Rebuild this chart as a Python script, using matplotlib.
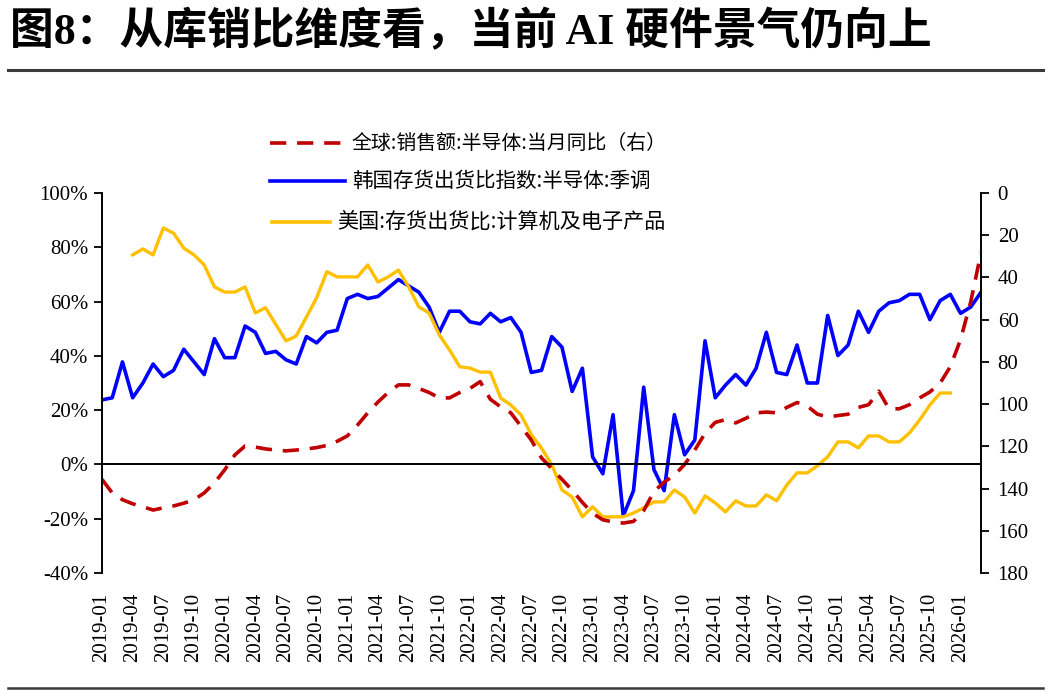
import numpy as np
import pandas as pd
import matplotlib
matplotlib.use('Agg')
import matplotlib.pyplot as plt
from matplotlib.lines import Line2D
from matplotlib.ticker import FuncFormatter

# --- DATA ---
months = pd.period_range('2019-01', '2026-03', freq='M')

# 全球:销售额:半导体:当月同比 (%), left axis
global_semi_yoy = [
    -5.5, -10.5, -13, -14.5, -15.6, -16.8, -16, -15.3, -14.3, -13,
    -10.5, -6.8, -2, 3.5, 6.8, 6.4, 5.7, 5.3, 5, 5.3,
    5.7, 6.2, 7, 8.5, 10.5, 14.5, 19, 23, 26.5, 29.3,
    29.3, 28, 26.5, 24.5, 24.5, 26.5, 28, 30.5, 24, 21.2,
    19, 14, 9, 2.4, -1.5, -5.5, -9.5, -14, -18, -20.4,
    -21.2, -21.6, -21, -17, -10, -6.5, -4, 0, 5.3, 11.5,
    15.5, 16.5, 15.3, 17, 19, 19.3, 19, 21, 22.8, 21.5,
    18.5, 17.5, 18, 18.5, 21, 22, 27, 20.5, 20.5, 22,
    24.5, 26.7, 30, 36, 46, 60, 78,
]

# 韩国存货出货比指数:半导体:季调, right axis (inverted)
korea_inv_ratio = [
    98, 97, 80, 97, 90, 81, 87, 84, 74, 80,
    86, 69, 78, 78, 63, 66, 76, 75, 79, 81,
    68, 71, 66, 65, 50, 48, 50, 49, 45, 41,
    44, 47, 54, 66, 56, 56, 61, 62, 57, 61,
    59, 66, 85, 84, 68, 73, 94, 83, 125, 133,
    105, 153, 141, 92, 131, 141, 105, 124, 117, 70,
    97, 91, 86, 91, 83, 66, 85, 86, 72, 90,
    90, 58, 77, 72, 56, 66, 56, 52, 51, 48,
    48, 60, 51, 48, 57, 54, 47,
]

# 美国:存货出货比:计算机及电子产品, 2019-04 .. 2025-12, left axis scale
us_start = 3
us_inv_ratio = [
    77.2, 79.4, 77.2, 87.1, 85.2, 79.7, 77.2, 73.5, 65.4, 63.5,
    63.5, 65.4, 55.8, 57.7, 51.6, 45.5, 47.3, 54.3, 61.4, 71.0,
    69.1, 69.1, 69.1, 73.5, 67.2, 69.1, 71.6, 65.4, 58.0, 55.8,
    47.7, 42.2, 36.0, 35.5, 34.0, 34.0, 24.5, 21.9, 18.2, 11.0,
    6.0, 0.0, -9.4, -12.0, -19.3, -15.6, -19.3, -19.3, -19.3, -17.9,
    -16.0, -13.8, -13.8, -9.4, -12.0, -17.9, -11.6, -14.2, -17.5, -13.4,
    -15.3, -15.3, -11.2, -13.4, -7.6, -3.1, -3.1, -0.5, 2.8, 8.3,
    8.3, 6.1, 10.5, 10.5, 8.3, 8.3, 11.6, 16.4, 21.9, 26.3,
    26.3,
]

labels = [
    '全球:销售额:半导体:当月同比（右）',
    '韩国存货出货比指数:半导体:季调',
    '美国:存货出货比:计算机及电子产品',
]
title = '图8：从库销比维度看，当前 AI 硬件景气仍向上'

# --- STYLE ---
W, H = 1051, 693
CJK = ['Noto Sans CJK SC', 'DejaVu Sans']
SERIF = ['Liberation Serif', 'Noto Sans CJK SC']
RED, BLUE, GOLD = '#C00000', '#0000FF', '#FFC000'


def fx(x):
    return x / W


def fy(y):
    return 1 - y / H


fig = plt.figure(figsize=(W / 100, H / 100), dpi=100)
ax2 = fig.add_axes([fx(102), fy(573), fx(981) - fx(102), fy(193) - fy(573)])
ax = ax2.twinx()
ax.yaxis.tick_left()
ax2.yaxis.tick_right()
ax.set_zorder(ax2.get_zorder() + 1)
ax.patch.set_visible(False)

x = np.arange(len(months))
x_us = np.arange(us_start, us_start + len(us_inv_ratio))

ax2.plot(x, korea_inv_ratio, color=BLUE, lw=2.6)
ax.plot(x_us, us_inv_ratio, color=GOLD, lw=2.4)
ax.plot(x, global_semi_yoy, color=RED, lw=2.6, dashes=(4.5, 3))

ax.set_xlim(0, len(months) - 1)
ax.set_ylim(-40, 100)
ax2.set_ylim(180, 0)

# left axis
ax.set_yticks(np.arange(-40, 101, 20))
ax.yaxis.set_major_formatter(FuncFormatter(lambda v, p: f'{v:.0f}%'))
ax.tick_params(axis='y', direction='out', length=6, width=1.3, pad=4)
for t in ax.get_yticklabels():
    t.set_fontfamily(SERIF)
    t.set_fontsize(15)

# right axis
ax2.set_yticks(np.arange(0, 181, 20))
ax2.tick_params(axis='y', direction='out', length=6, width=1.3, pad=6)
for t in ax2.get_yticklabels():
    t.set_fontfamily(SERIF)
    t.set_fontsize(15)

# x axis drawn along 0%, labels at bottom
tick_pos = x[::3][:29]
tick_lab = [m.strftime('%Y-%m') for m in months[::3][:29]]
ax.spines['bottom'].set_position(('data', 0))
ax.set_xticks(tick_pos)
ax.tick_params(axis='x', direction='out', length=6, width=1.3, labelbottom=False)
ax2.set_xticks([])
sec = ax.secondary_xaxis(0.0)
sec.set_xticks(tick_pos)
sec.set_xticklabels(tick_lab, rotation=90, fontfamily=SERIF, fontsize=15)
sec.tick_params(length=0, pad=14)
sec.spines['bottom'].set_visible(False)

for a in (ax, ax2):
    a.spines['top'].set_visible(False)
    for s in a.spines.values():
        s.set_linewidth(1.4)
ax.spines['right'].set_visible(False)
ax2.spines['left'].set_visible(False)
ax2.spines['bottom'].set_visible(False)

# legend (hand placed rows as in the reference)
rows = [
    (RED, (4.5, 3), 270, 345, 143, 352, labels[0], 14.3),
    (BLUE, None, 270, 345, 181, 352, labels[1], 14.8),
    (GOLD, None, 272, 330, 222, 337, labels[2], 15.2),
]
for color, dash, x0, x1, yy, xt, lab, fs in rows:
    ln = Line2D([fx(x0), fx(x1)], [fy(yy), fy(yy)], transform=fig.transFigure,
                color=color, lw=2.6)
    if dash:
        ln.set_dashes(dash)
    fig.add_artist(ln)
    fig.text(fx(xt), fy(yy), lab, fontfamily=CJK, fontsize=fs,
             va='center', ha='left')

# title and rules
fig.text(fx(10), fy(32), title, fontfamily=SERIF, fontsize=31.5,
         fontweight='bold', va='center', ha='left')
fig.add_artist(Line2D([fx(8), fx(1043)], [fy(70), fy(70)],
                      transform=fig.transFigure, color='#3a3a3a', lw=2.2))
fig.add_artist(Line2D([fx(8), fx(1043)], [fy(688), fy(688)],
                      transform=fig.transFigure, color='#3a3a3a', lw=1.8))

fig.savefig('out.png', dpi=100)
